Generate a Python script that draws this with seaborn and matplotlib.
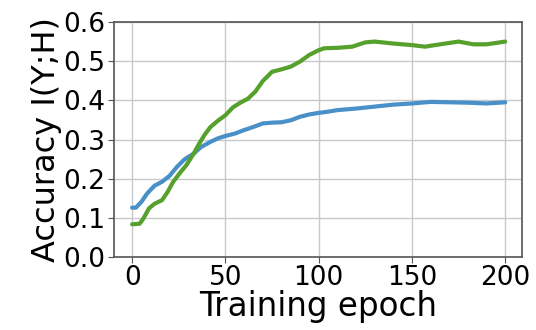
import numpy as np
import pandas as pd
import matplotlib
matplotlib.use("Agg")
import matplotlib.pyplot as plt
import seaborn as sns

blue_x = [0, 2, 5, 8, 12, 16, 20, 24, 28, 33, 37, 42, 46, 50, 55, 60, 65, 70, 75, 80,
          85, 90, 95, 100, 105, 110, 120, 130, 140, 150, 160, 170, 180, 190, 200]
blue_y = [0.126, 0.126, 0.141, 0.162, 0.182, 0.192, 0.207, 0.230, 0.249, 0.264, 0.281,
          0.294, 0.303, 0.309, 0.315, 0.324, 0.332, 0.341, 0.343, 0.344, 0.349, 0.358,
          0.364, 0.368, 0.371, 0.375, 0.379, 0.384, 0.389, 0.392, 0.396, 0.395, 0.394,
          0.392, 0.395]

green_x = [0, 4, 6, 9, 12, 16, 19, 22, 26, 29, 33, 36, 39, 42, 46, 50, 54, 58, 62, 66,
           70, 75, 80, 85, 90, 95, 100, 103, 110, 118, 125, 130, 140, 150, 157, 165,
           175, 183, 190, 200]
green_y = [0.0835, 0.085, 0.098, 0.124, 0.136, 0.145, 0.166, 0.192, 0.217, 0.234, 0.264,
           0.290, 0.313, 0.332, 0.348, 0.362, 0.382, 0.394, 0.404, 0.422, 0.449, 0.473,
           0.479, 0.486, 0.499, 0.516, 0.528, 0.533, 0.534, 0.537, 0.548, 0.550, 0.545,
           0.541, 0.537, 0.543, 0.550, 0.543, 0.543, 0.550]

xticks = [0, 50, 100, 150, 200]
yticks = [0.0, 0.1, 0.2, 0.3, 0.4, 0.5, 0.6]

sns.set_style("whitegrid", {"axes.edgecolor": "#555555", "grid.color": "#c8c8c8",
                            "xtick.bottom": True, "ytick.left": True,
                            "text.color": "black", "axes.labelcolor": "black",
                            "xtick.color": "black", "ytick.color": "black"})
plt.rcParams['font.family'] = ['DejaVu Sans']

fig = plt.figure(figsize=(5.36, 3.30), dpi=100)
ax = fig.add_axes([113.5/536, 1 - 257/330, (522 - 113.5)/536, (257 - 22)/330])

df_b = pd.DataFrame({"epoch": blue_x, "acc": blue_y})
df_g = pd.DataFrame({"epoch": green_x, "acc": green_y})
sns.lineplot(data=df_b, x="epoch", y="acc", ax=ax, color="#4a90c8", lw=3)
sns.lineplot(data=df_g, x="epoch", y="acc", ax=ax, color="#56a02c", lw=3)

ax.set_xlim(-10, 209)
ax.set_ylim(0, 0.6)
ax.set_xticks(xticks)
ax.set_yticks(yticks)
ax.set_yticklabels([f"{v:.1f}" for v in yticks])
ax.tick_params(axis="both", labelsize=19, length=4, color="#555555",
               labelcolor="black", pad=2)
ax.set_xlabel("Training epoch", fontsize=23.5, labelpad=-1)
ax.set_ylabel("Accuracy I(Y;H)", fontsize=23, labelpad=1)
for s in ax.spines.values():
    s.set_linewidth(1.2)
ax.grid(True, lw=1)

fig.savefig("out.png", dpi=100)
